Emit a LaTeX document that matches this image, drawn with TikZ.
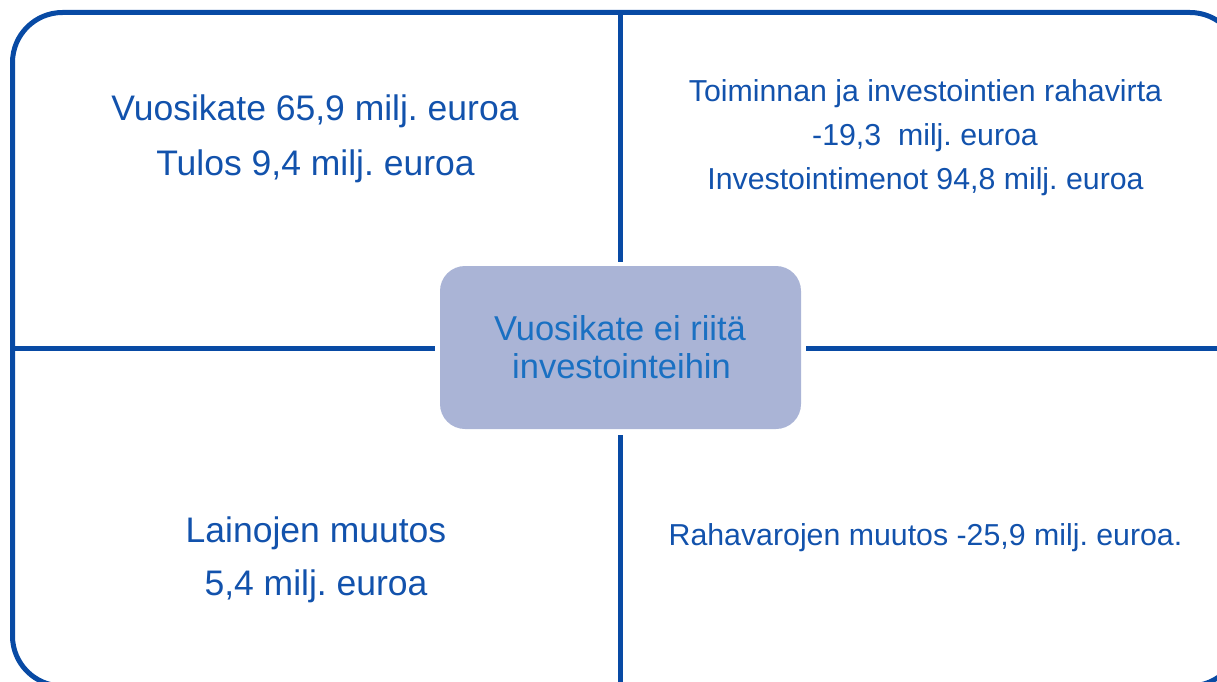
\documentclass[tikz,border=0pt]{standalone}
\usepackage{fontspec}
\setmainfont{Liberation Sans}
\frenchspacing
\definecolor{linieblue}{RGB}{8,74,164}
\definecolor{textblue}{RGB}{18,82,172}
\definecolor{boxfill}{RGB}{170,180,214}
\definecolor{boxtext}{RGB}{26,112,194}
\begin{document}
\begin{tikzpicture}[x=1pt,y=-1pt,
  frame/.style={draw=linieblue,line width=5pt},
  divider/.style={draw=linieblue,line width=5pt},
  bigtxt/.style={inner sep=0pt,anchor=base,text=textblue,font=\frenchspacing\fontsize{35.5}{40}\selectfont},
  smalltxt/.style={inner sep=0pt,anchor=base,text=textblue,font=\frenchspacing\fontsize{30.3}{36}\selectfont},
  centertxt/.style={inner sep=0pt,anchor=base,text=boxtext,font=\frenchspacing\fontsize{34.5}{38}\selectfont},
  hubbox/.style={fill=boxfill,rounded corners=25pt,minimum width=361pt,minimum height=163pt,inner sep=0pt}]
\useasboundingbox (0,0) rectangle (1217,682);
\clip (0,0) rectangle (1217,682);
% outer frame
\draw[frame,rounded corners=50pt] (12.5,12.5) rectangle (1240,686);
% central box
\node[hubbox] (hub) at (620.5,347.5) {};
% divider end points
\coordinate (vtop) at (620,12.5);
\coordinate (vtopend) at (620,262);
\coordinate (vbot) at (620,435);
\coordinate (vbotend) at (620,686);
\coordinate (hleft) at (12.5,348);
\coordinate (hleftend) at (435,348);
\coordinate (hright) at (806,348);
\coordinate (hrightend) at (1240,348);
\draw[divider] (vtop) -- (vtopend);
\draw[divider] (vbot) -- (vbotend);
\draw[divider] (hleft) -- (hleftend);
\draw[divider] (hright) -- (hrightend);
% centre text
\node[centertxt] (c1) at (620,340) {Vuosikate ei riitä};
\node[centertxt] (c2) at (621.5,378) {investointeihin};
% top-left
\node[bigtxt] (tl1) at (315,121) {Vuosikate 65,9 milj. euroa};
\node[bigtxt] (tl2) at (315.5,175) {Tulos 9,4 milj. euroa};
% top-right
\node[smalltxt] (tr1) at (925.5,102) {Toiminnan ja investointien rahavirta};
\node[smalltxt] (tr2) at (925,146) {-19,3\ \ milj. euroa};
\node[smalltxt] (tr3) at (925.5,189) {Investointimenot 94,8 milj. euroa};
% bottom-left
\node[bigtxt] (bl1) at (316,542) {Lainojen muutos};
\node[bigtxt] (bl2) at (316,595) {5,4 milj. euroa};
% bottom-right
\node[smalltxt] (br1) at (925.5,545) {Rahavarojen muutos -25,9 milj. euroa.};
\end{tikzpicture}
\end{document}
